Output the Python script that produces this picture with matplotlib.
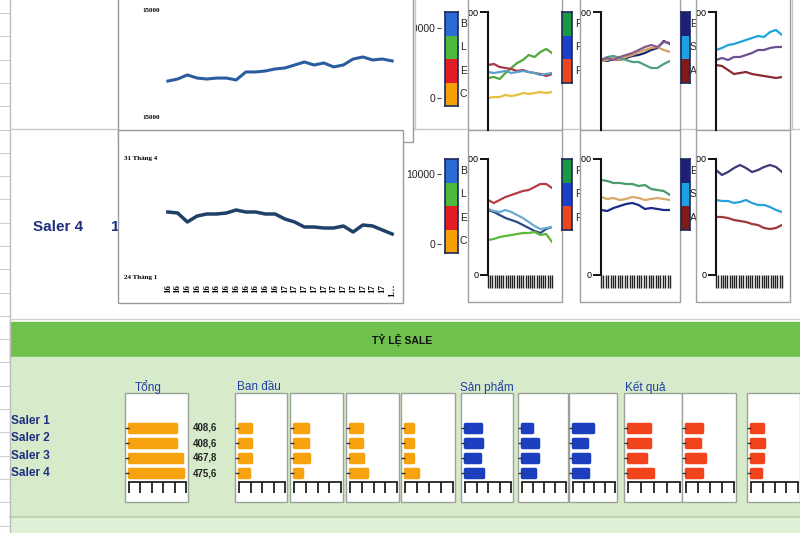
import numpy as np
import matplotlib
matplotlib.use('Agg')
import matplotlib.pyplot as plt
from matplotlib import font_manager
from matplotlib.patches import Rectangle
from matplotlib.transforms import Bbox, TransformedBbox

# ===== font: dùng bản Narrow nếu có =====
available = {f.name for f in font_manager.fontManager.ttflist}
NARROW = 'Liberation Sans Narrow' if 'Liberation Sans Narrow' in available else 'Liberation Sans'
plt.rcParams['font.family'] = [NARROW, 'DejaVu Sans']

# ===== data: 2 biểu đồ đường lớn =====
top_line = [14836, 14855, 14893, 14864, 14855, 14864, 14864, 14846, 14921, 14921, 14930, 14949,
            14958, 14986, 15014, 14986, 15005, 14968, 14986, 15042, 15061, 15033, 15042, 15024]
top_yticks = [14500, 15500]
top_yticklabels = ['15000', '15000']

day_line = [65, 64, 55, 61, 63, 63, 64, 67, 65, 65, 63, 63,
            58, 55, 50, 50, 49, 49, 51, 45, 52, 51, 47, 43]
day_yticks = [0, 119]
day_yticklabels = ['24 Tháng 1', '31 Tháng 4']
day_xticklabels = ['16'] * 12 + ['17'] * 11 + ['1…']

# ===== data: các biểu đồ nhỏ (hàng 1) =====
r1c1_lines = [[4310, 4397, 4224, 4741, 5172, 5603, 5862, 6293, 6121, 6552, 6810, 6466],
              [5431, 5517, 5259, 5172, 5086, 4914, 5000, 4828, 4741, 4655, 4483, 4655],
              [4828, 4741, 4828, 4914, 4741, 4828, 4914, 4828, 4741, 4569, 4655, 4741],
              [2586, 2672, 2672, 2845, 2759, 2845, 3017, 2931, 3017, 3103, 3017, 3103]]
r1c1_colors = ['#52a83c', '#a8384a', '#5b9fc9', '#e6c03a']
r1c2_lines = [[5862, 5776, 5948, 5862, 6034, 6207, 6293, 6466, 6724, 6897, 7500, 7241],
              [5776, 5862, 6034, 5862, 6121, 6293, 6552, 6724, 6897, 6983, 6724, 6552],
              [5862, 6121, 6207, 6034, 5862, 5690, 5690, 5431, 5172, 5172, 5517, 5776],
              [5862, 6034, 5862, 6121, 6293, 6466, 6724, 6983, 7155, 6983, 7414, 7328]]
r1c2_colors = ['#1c2470', '#d4a060', '#4f9c88', '#8a5a8c']
r1c3_lines = [[6724, 6897, 7155, 7241, 7414, 7586, 7759, 7931, 7845, 8276, 8448, 8017],
              [5862, 6034, 5862, 6121, 6121, 6293, 6466, 6724, 6724, 6897, 6983, 6983],
              [5431, 5345, 5000, 4655, 4741, 4828, 4655, 4569, 4483, 4397, 4310, 4397]]
r1c3_colors = ['#1fa4dc', '#6b4f8e', '#8c2a33']

# ===== data: các biểu đồ nhỏ (hàng 2) =====
r2c1_lines = [[6466, 6207, 6466, 6724, 6897, 7069, 7241, 7328, 7586, 7845, 7845, 7500],
              [5603, 5431, 5172, 4914, 4741, 4569, 4310, 4052, 3793, 3621, 3966, 4138],
              [5690, 5517, 5431, 5603, 5431, 5172, 4914, 4569, 4224, 3966, 4052, 4138],
              [3017, 3103, 3276, 3362, 3448, 3534, 3621, 3621, 3707, 3448, 3534, 2845]]
r2c1_colors = ['#b83a48', '#2a4a8a', '#6aaad0', '#5cb838']
r2c2_lines = [[8190, 8103, 7931, 7931, 7845, 7845, 7672, 7759, 7414, 7328, 7241, 6897],
              [6724, 6552, 6638, 6466, 6552, 6724, 6638, 6466, 6552, 6638, 6552, 6466],
              [5603, 5517, 5776, 5948, 6121, 6207, 6034, 5690, 5776, 5690, 5603, 5603]]
r2c2_colors = ['#4a9a6a', '#d8a868', '#1c2a8a']
r2c3_lines = [[9052, 8621, 8879, 9224, 9483, 9224, 8879, 9052, 9310, 9483, 9310, 8879],
              [6466, 6379, 6379, 6207, 6293, 6466, 6207, 6034, 6034, 5862, 5603, 5431],
              [5000, 5000, 4914, 4741, 4655, 4569, 4397, 4310, 4052, 3966, 4052, 4310]]
r2c3_colors = ['#3c3a78', '#2aa0d8', '#a03838']

# legend strips
strip1_colors = ['#2c6bd6', '#4cb83c', '#e21c24', '#f5a00a']
strip1_labels = ['B', 'L', 'E', 'C']
strip2_colors = ['#1a9a40', '#1b3fcc', '#f0461c']
strip2_labels = ['F', 'F', 'F']
strip3_colors = ['#1f1f78', '#1ea0e4', '#7f1a1a']
strip3_labels = ['E', 'St', 'Ac']
legend_ticks = [0, 10000]
legend_ticklabels = ['0', '10000']

# ===== data: tỷ lệ sale =====
salers = ['Saler 1', 'Saler 2', 'Saler 3', 'Saler 4']
tong = [408.6, 408.6, 467.8, 475.6]
ban_dau = [[102, 102, 102, 85], [119, 119, 128, 68], [102, 102, 110, 145], [66, 66, 66, 108]]
san_pham = [[139, 148, 130, 157], [89, 142, 142, 115], [190, 134, 152, 143]]
ket_qua = [[170, 170, 138, 192], [134, 117, 158, 134], [102, 110, 102, 85]]
section_titles = ['Tổng', 'Ban đầu', 'Sản phẩm', 'Kết quả']

ORANGE = '#f7a30f'
BLUE = '#1c3fc0'
RED = '#f2441c'
NAVY = '#1f2f80'

W, H = 800, 533
fig = plt.figure(figsize=(8, 5.33), dpi=100)

# nền vẽ theo pixel
bg = fig.add_axes([0, 0, 1, 1])
bg.set_xlim(0, W)
bg.set_ylim(H, 0)
bg.axis('off')


def add_px_axes(x0, y0, x1, y1):
    return fig.add_axes([x0 / W, 1 - y1 / H, (x1 - x0) / W, (y1 - y0) / H])


def clip_from(texts, x0):
    # bbox phải có y tăng dần trong toạ độ màn hình
    box = TransformedBbox(Bbox([[x0, 0], [W, H]]), bg.transData)
    for t in texts:
        t.set_clip_box(box)
        t.set_clip_on(True)


# ===== lưới excel bên trái, các vùng màu =====
for y in np.arange(13, H, 23.3):
    bg.plot([0, 10], [y, y], color='#cfcfcf', lw=0.8)
bg.plot([10, 10], [0, H], color='#bdbdbd', lw=1)
bg.plot([10, W], [129, 129], color='#c8c8c8', lw=1)
bg.plot([415, 415], [0, 129], color='#c8c8c8', lw=1)
bg.plot([792, 792], [0, 129], color='#c8c8c8', lw=1)
bg.plot([10, W], [319, 319], color='#d0d0d0', lw=1)
bg.add_patch(Rectangle((10, 322), W - 10, 35, color='#6fc04c', zorder=1))
bg.add_patch(Rectangle((10, 357), W - 10, 160, color='#d7ebcb', zorder=1))
bg.add_patch(Rectangle((10, 517), W - 10, 16, color='#dff0d6', zorder=1))
bg.plot([10, W], [517, 517], color='#b8d4a8', lw=1.2, zorder=1)
bg.text(402, 340, 'TỶ LỆ SALE', ha='center', va='center', fontsize=7.5,
        fontweight='bold', color='#111111', zorder=2)

# ===== 2 biểu đồ đường lớn =====
bg.text(33, 227, 'Saler 4', fontsize=11, fontweight='bold', color=NAVY, va='center', zorder=1)
bg.text(111, 227, '1', fontsize=11, fontweight='bold', color=NAVY, va='center', zorder=1)
bg.add_patch(Rectangle((118, -2), 295, 144, fc='white', ec='#9a9a9a', lw=1, zorder=2))
bg.add_patch(Rectangle((118, 130), 285, 173, fc='white', ec='#9a9a9a', lw=1, zorder=3))

serif = dict(family='Liberation Serif', fontweight='bold', fontsize=5)

ax1 = add_px_axes(163, 10, 397, 117)
ax1.plot(range(len(top_line)), top_line, color='#2a5d9f', lw=2.2)
ax1.set_xlim(-0.5, len(top_line) - 0.5)
ax1.set_ylim(top_yticks[0], top_yticks[1])
ax1.set_yticks(top_yticks)
ax1.set_yticklabels(top_yticklabels, **serif)
ax1.set_xticks([])
ax1.tick_params(axis='y', length=0, pad=2)
ax1.patch.set_alpha(0)
for s in ax1.spines.values():
    s.set_visible(False)

ax2 = add_px_axes(163, 158, 397, 277)
ax2.plot(range(len(day_line)), day_line, color='#1f4068', lw=2.5)
ax2.set_xlim(-0.5, len(day_line) - 0.5)
ax2.set_ylim(day_yticks[0], day_yticks[1])
ax2.set_yticks(day_yticks)
ax2.set_yticklabels(day_yticklabels, **serif)
ax2.set_xticks(range(len(day_xticklabels)))
ax2.set_xticklabels(day_xticklabels, rotation=90, family='Liberation Serif',
                    fontweight='bold', fontsize=6.5)
ax2.tick_params(axis='y', length=0, pad=4)
ax2.tick_params(axis='x', length=0, pad=5)
ax2.patch.set_alpha(0)
for s in ax2.spines.values():
    s.set_visible(False)

# ===== các biểu đồ nhỏ bên phải =====
panels = [(468, 562), (580, 680), (696, 790)]
plot_x = [(488, 552), (601, 670), (716, 782)]
strip_x = [(445, 458), (562, 572), (681, 690)]
letter_x = [460, 575, 690]
strips = [(strip1_colors, strip1_labels), (strip2_colors, strip2_labels), (strip3_colors, strip3_labels)]

for x0, x1 in panels:
    bg.add_patch(Rectangle((x0, -2), x1 - x0, 132, fc='white', ec='#a0a0a0', lw=1, zorder=2))
    bg.add_patch(Rectangle((x0, 130), x1 - x0, 172, fc='white', ec='#a0a0a0', lw=1, zorder=3))

rows = [
    (12, [r1c1_lines, r1c2_lines, r1c3_lines], [r1c1_colors, r1c2_colors, r1c3_colors], 28, 98),
    (159, [r2c1_lines, r2c2_lines, r2c3_lines], [r2c1_colors, r2c2_colors, r2c3_colors], 174, 244),
]

for r, (top, row_lines, row_colors, ly0, ly1) in enumerate(rows):
    # trục y của biểu đồ ẩn phía sau legend
    lax = add_px_axes(441, ly0, 443, ly1)
    lax.set_ylim(legend_ticks[0], legend_ticks[1])
    lax.set_yticks(legend_ticks)
    lax.set_yticklabels(legend_ticklabels, fontsize=7.5, color='#222222')
    lax.set_xticks([])
    lax.tick_params(axis='y', length=3, width=0.8, pad=1, color='#444444')
    lax.patch.set_alpha(0)
    for s in lax.spines.values():
        s.set_visible(False)
    if r == 0:
        clip_from(lax.get_yticklabels(), 416)

    for k in range(3):
        colors, labels = strips[k]
        sx0, sx1 = strip_x[k]
        block = 23.5
        sax = add_px_axes(sx0, top, sx1, top + block * len(colors))
        for i, c in enumerate(colors):
            sax.bar(0, 1, bottom=i, width=1, color=c)
            bg.text(letter_x[k], top + block * (i + 0.5), labels[i], fontsize=7.5,
                    color='#222222', va='center', zorder=1)
        sax.set_xlim(-0.5, 0.5)
        sax.set_ylim(len(colors), 0)
        sax.set_xticks([])
        sax.set_yticks([])
        for s in sax.spines.values():
            s.set_color('#1a2a5a')
            s.set_linewidth(1.2)

        px0, px1 = plot_x[k]
        if r == 0:
            ax = add_px_axes(px0, 12, px1, 130)
            ax.set_ylim(-172, 10000)
            ax.set_yticks([10000])
            ax.set_yticklabels(['10000'], fontsize=6.5)
            ax.set_xticks([])
        else:
            ax = add_px_axes(px0, 159, px1, 275)
            ax.set_ylim(0, 10000)
            ax.set_yticks(legend_ticks)
            ax.set_yticklabels(legend_ticklabels, fontsize=6.5)
            ax.set_xticks(np.linspace(0, 11, 30))
            ax.set_xticklabels([])
            ax.tick_params(axis='x', direction='out', length=9.4, width=1, color='#222222')
        for vals, c in zip(row_lines[k], row_colors[k]):
            ax.plot(range(len(vals)), vals, color=c, lw=1.6)
        ax.set_xlim(0, len(row_lines[k][0]) - 1)
        ax.tick_params(axis='y', length=5.8, width=1.4, color='#111111', pad=1)
        ax.patch.set_alpha(0)
        for name, s in ax.spines.items():
            s.set_visible(name == 'left')
        ax.spines['left'].set_linewidth(1.5)
        ax.spines['left'].set_color('#111111')
        clip_from(ax.get_yticklabels(), panels[k][0] + 1)

# ===== tỷ lệ sale: các ô biểu đồ thanh =====
bar_panels = [((125, 188), tong, ORANGE, 500)]
for (x0, x1), vals in zip([(235, 287), (290, 343), (346, 399), (401, 455)], ban_dau):
    bar_panels.append(((x0, x1), vals, ORANGE, 400))
for (x0, x1), vals in zip([(461, 513), (518, 568), (569, 617)], san_pham):
    bar_panels.append(((x0, x1), vals, BLUE, 400))
for (x0, x1), vals in zip([(624, 682), (682, 736), (747, 800)], ket_qua):
    bar_panels.append(((x0, x1), vals, RED, 400))

for (x0, x1), vals, c, vmax in bar_panels:
    bg.add_patch(Rectangle((x0, 393), x1 - x0, 109, fc='white', ec='#9aa39a', lw=1, zorder=2))
    ax = add_px_axes(x0 + 4, 419, x1 - 2, 482)
    ax.barh(range(len(vals)), vals, height=0.55, color=c, edgecolor=c, lw=2.5,
            joinstyle='round', clip_on=False)
    ax.set_ylim(3.6, -0.6)
    ax.set_xlim(0, vmax)
    ax.set_xticks(range(0, vmax + 1, 100))
    ax.set_xticklabels([])
    ax.set_yticks(range(len(vals)))
    ax.set_yticklabels([])
    ax.tick_params(axis='x', direction='out', length=8, width=1.3, color='#222222')
    ax.tick_params(axis='y', direction='out', length=3, width=1, color='#333333')
    ax.patch.set_alpha(0)
    for name, s in ax.spines.items():
        s.set_visible(name == 'bottom')
    ax.spines['bottom'].set_linewidth(1.3)
    ax.spines['bottom'].set_color('#222222')
    if vals is tong:
        for i, v in enumerate(vals):
            ax.text(1.12, i, f'{v:.1f}'.replace('.', ','), transform=ax.get_yaxis_transform(),
                    ha='left', va='center', fontsize=7, fontweight='bold', color='#222222')

for x, t in zip([135, 237, 460, 625], section_titles):
    bg.text(x, 387, t, fontsize=8.5, color='#1f3fa0', va='center', zorder=3)

for y, s in zip([421, 438, 456, 473], salers):
    bg.text(11, y, s, fontsize=8.5, fontweight='bold', color=NAVY, va='center', zorder=3)

fig.savefig('out.png', dpi=100)
